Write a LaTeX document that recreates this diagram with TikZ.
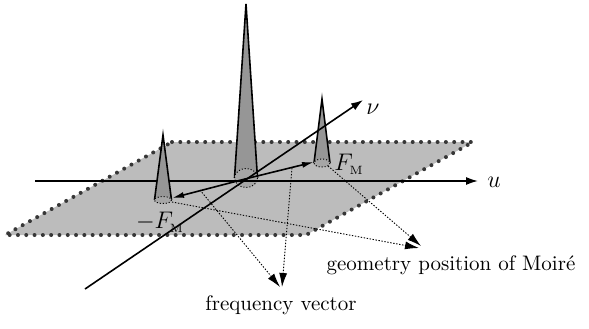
\documentclass[tikz,border=0pt]{standalone}
\usetikzlibrary{arrows.meta}
\definecolor{planogris}{RGB}{188,188,188}
\definecolor{conogris}{RGB}{150,150,150}
\definecolor{puntogris}{RGB}{55,55,55}
\begin{document}
\begin{tikzpicture}[x=0.5pt,y=-0.5pt,
  eje/.style={line width=0.8pt,-{Latex[length=6pt,width=4pt]}},
  vec/.style={line width=0.8pt,-{Latex[length=6pt,width=3pt]}},
  guia/.style={line width=0.45pt,dash pattern=on 0.7pt off 0.8pt,-{Latex[length=7pt,width=4pt]}},
  lbl/.style={font=\fontsize{10.5}{12}\selectfont,inner sep=0pt},
  mat/.style={font=\fontsize{12.5}{14}\selectfont,inner sep=0pt}]
\useasboundingbox (0,0) rectangle (589,328);
% Un pico: x, y del vertice, y de la base, radios de la base.
\newcommand{\pico}[5]{%
  \fill[conogris] (#1-#4,#3) -- (#1,#2) -- (#1+#4,#3)
    arc[start angle=0,end angle=180,x radius=#4,y radius=#5] -- cycle;
  \draw[line width=0.8pt] (#1-#4,#3) -- (#1,#2) -- (#1+#4,#3);
  \draw[line width=0.5pt,densely dotted,fill=conogris!85!white] (#1,#3) ellipse[x radius=#4,y radius=#5];}
% Plano de frecuencias
\draw[puntogris,fill=planogris,line width=2pt,line cap=round,dash pattern=on 0pt off 4.15pt]
  (172,142) -- (473,142) -- (306,235) -- (5,235) -- cycle;
% Pico central
\pico{246}{4}{178}{11.5}{9.5}
\coordinate (O) at (245,179);
% Ejes
\coordinate (uIni) at (35,181);
\coordinate (uFin) at (478,181);
\draw[eje] (uIni) -- (uFin);
\node[mat,anchor=west] (uLbl) at (487,182) {$u$};
% Picos laterales
\pico{163}{135}{200}{8.5}{3.5}
\pico{322}{99}{163}{8}{4}
\coordinate (vIni) at (85,289);
\coordinate (vFin) at (363,100);
\draw[eje] (vIni) -- (vFin);
\node[mat,anchor=west] (vLbl) at (366,109) {$\nu$};
% Vectores de frecuencia
\coordinate (pF) at (314,162);
\coordinate (nF) at (172,198);
\draw[vec] (O) -- (pF);
\draw[vec] (O) -- (nF);
\node[mat,anchor=west] (pLbl) at (334,164) {$F_{\scriptscriptstyle\mathrm{M}}$};
\node[mat] (nLbl) at (160,222) {$-F_{\scriptscriptstyle\mathrm{M}}$};
% Leyendas
\node[lbl] (frec) at (281,305) {frequency vector};
\node[lbl] (moire) at (451,265) {geometry position of Moir\'e};
\coordinate (fA) at (200,190);
\coordinate (fB) at (292,168);
\draw[guia] (fA) -- (280,287);
\draw[guia] (fB) -- (282,287);
\coordinate (mA) at (328,166);
\coordinate (mB) at (172,202);
\draw[guia] (mA) -- (421,246);
\draw[guia] (mB) -- (419,248);
\end{tikzpicture}
\end{document}
